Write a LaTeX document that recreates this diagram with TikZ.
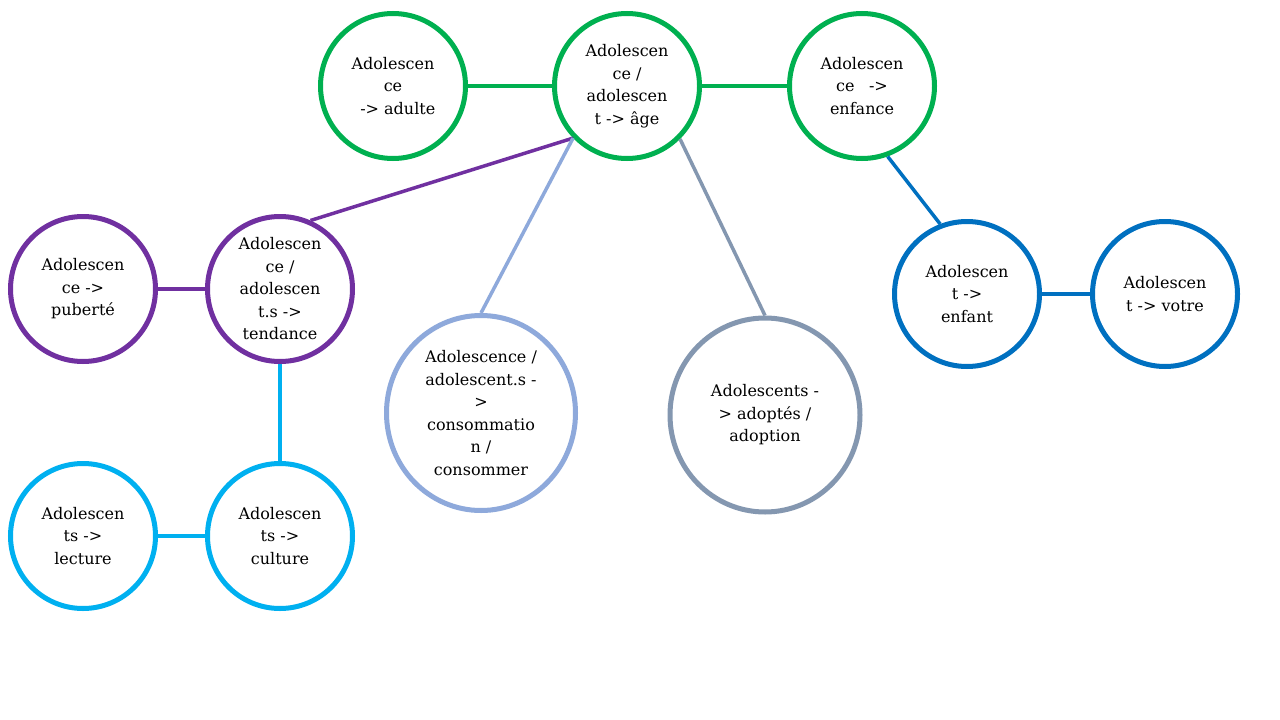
\documentclass[tikz,border=0pt]{standalone}
\usepackage{fontspec}
\setmainfont{DejaVu Serif}
\newfontfamily\bubfont{DejaVu Serif}
\usetikzlibrary{shapes.geometric}
\definecolor{cgreen}{HTML}{00B050}
\definecolor{cpurple}{HTML}{7030A0}
\definecolor{ccyan}{HTML}{00B0F0}
\definecolor{cperi}{HTML}{8EA9DB}
\definecolor{cgrey}{HTML}{8497B0}
\definecolor{cblue}{HTML}{0070C0}
\begin{document}
\begin{tikzpicture}[x=1pt,y=-1pt,
  bub/.style={circle, draw, line width=5pt, minimum size=145pt, inner sep=0pt,
    align=center, text=black, font=\bubfont\fontsize{16}{22.5}\selectfont},
  ell/.style={ellipse, draw, line width=5pt, inner sep=0pt,
    align=center, text=black, font=\bubfont\fontsize{16}{22.5}\selectfont},
  conn/.style={line width=3.5pt}]
\path[use as bounding box, fill=white] (0,0) rectangle (1280,720);

\node[bub, draw=cgreen] (adulte) at (393,86) {Adolescen\\ce\\\hspace*{0.6em}-> adulte};
\node[bub, draw=cgreen] (age) at (627,86) {Adolescen\\ce /\\adolescen\\t -> âge};
\node[bub, draw=cgreen] (enfance) at (862,86) {Adolescen\\ce\hspace{0.9em}->\\enfance};

\node[bub, draw=cpurple] (puberte) at (83,289) {Adolescen\\ce ->\\puberté};
\node[bub, draw=cpurple] (tendance) at (280,289) {Adolescen\\ce /\\adolescen\\t.s ->\\tendance};

\node[ell, draw=cperi, minimum width=189pt, minimum height=195pt] (conso) at (481,413)
  {Adolescence /\\adolescent.s -\\>\\consommatio\\n /\\consommer};
\node[ell, draw=cgrey, minimum width=190pt, minimum height=194pt] (adopt) at (765,415)
  {Adolescents -\\> adoptés /\\adoption};

\node[bub, draw=cblue] (enfant) at (967,294) {Adolescen\\t ->\\enfant};
\node[bub, draw=cblue] (votre) at (1165,294) {Adolescen\\t -> votre};

\node[bub, draw=ccyan] (lecture) at (83,536) {Adolescen\\ts ->\\lecture};
\node[bub, draw=ccyan] (culture) at (280,536) {Adolescen\\ts ->\\culture};

\draw[conn, cgreen] (adulte.east) -- (age.west);
\draw[conn, cgreen] (age.east) -- (enfance.west);
\draw[conn, cpurple] (age.224) -- (tendance.66);
\draw[conn, cperi] (age.224) -- (conso.north);
\draw[conn, cgrey] (age.-45) -- (adopt.north);
\draw[conn, cblue] (enfance.-70) -- (enfant.111);
\draw[conn, cblue] (enfant.east) -- (votre.west);
\draw[conn, cpurple] (puberte.east) -- (tendance.west);
\draw[conn, ccyan] (tendance.south) -- (culture.north);
\draw[conn, ccyan] (lecture.east) -- (culture.west);
\end{tikzpicture}
\end{document}
